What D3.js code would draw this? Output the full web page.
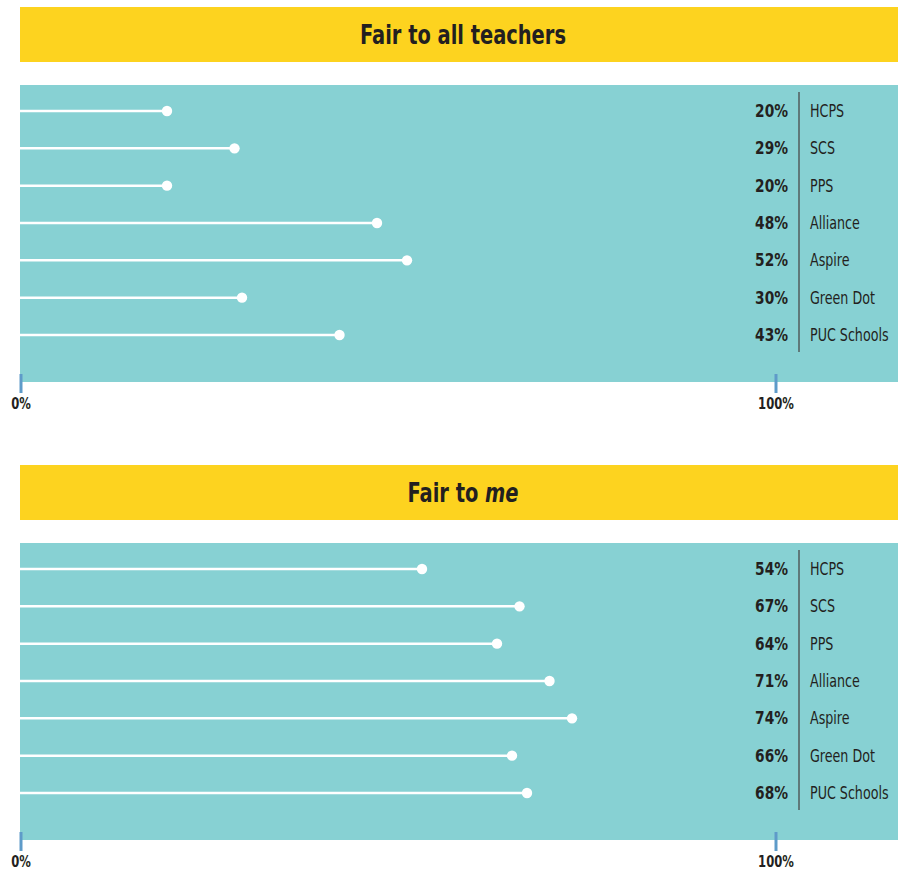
<!DOCTYPE html>
<html><head><meta charset="utf-8">
<script src="https://cdn.jsdelivr.net/npm/d3@7"></script>
<style>
body{margin:0;background:#fff;}
text{font-family:"DejaVu Sans Condensed","DejaVu Sans",sans-serif;fill:#231f20;}
</style></head>
<body><svg id="c" width="898" height="869"></svg>
<script>
const schools = ["HCPS","SCS","PPS","Alliance","Aspire","Green Dot","PUC Schools"];
const fairAll = [20,29,20,48,52,30,43];
const fairMe = [54,67,64,71,74,66,68];
const axisTicks = [0,100];
const panels = [
  {title:"Fair to all teachers", italic:null, values:fairAll, top:7},
  {title:"Fair to ", italic:"me", values:fairMe, top:465}
];

const svg = d3.select("#c");
const W = 898;
const x = d3.scaleLinear().domain([0,100]).range([17,767]);
const xAxisScale = d3.scaleLinear().domain([0,100]).range([21,776]);

function txt(g, tx, ty, sx){
  return g.append("text").attr("transform",`translate(${tx},${ty}) scale(${sx},1)`);
}

panels.forEach(p=>{
  const g = svg.append("g").attr("transform",`translate(0,${p.top})`);
  g.append("rect").attr("x",20).attr("y",0).attr("width",W-20).attr("height",55).attr("fill","#fdd31f");
  const t = txt(g,463,37,0.8).attr("text-anchor","middle")
    .attr("font-size",27).attr("font-weight","bold");
  t.append("tspan").text(p.title);
  if(p.italic) t.append("tspan").attr("font-style","italic").text(p.italic);

  const panelTop = 78, panelH = 297;
  g.append("rect").attr("x",20).attr("y",panelTop).attr("width",W-20).attr("height",panelH).attr("fill","#87d1d3");

  const y = d3.scalePoint().domain(schools).range([panelTop+26, panelTop+250]);

  g.append("line").attr("x1",799).attr("x2",799).attr("y1",panelTop+7).attr("y2",panelTop+267)
    .attr("stroke","#4a4a4a").attr("stroke-width",1.3);

  schools.forEach((s,i)=>{
    const v = p.values[i];
    g.append("line").attr("x1",20).attr("x2",x(v)).attr("y1",y(s)).attr("y2",y(s))
      .attr("stroke","#fff").attr("stroke-width",2.5);
    g.append("circle").attr("cx",x(v)).attr("cy",y(s)).attr("r",5.2).attr("fill","#fff");
    txt(g,788,y(s)+6,0.9).attr("text-anchor","end")
      .attr("font-size",17).attr("font-weight","bold").text(v+"%");
    txt(g,810,y(s)+6,0.83).attr("font-size",17).text(s);
  });

  const axisY = panelTop + panelH + 11;
  const ax = g.append("g").attr("transform",`translate(0,${axisY})`);
  ax.selectAll("line").data(axisTicks).join("line")
    .attr("x1",d=>xAxisScale(d)).attr("x2",d=>xAxisScale(d)).attr("y1",-19).attr("y2",0)
    .attr("stroke","#5e9bc9").attr("stroke-width",3);
  axisTicks.forEach(d=>{
    txt(ax,xAxisScale(d),16,0.86).attr("text-anchor","middle")
      .attr("font-size",15).attr("font-weight","bold").text(d+"%");
  });
});
</script></body></html>
